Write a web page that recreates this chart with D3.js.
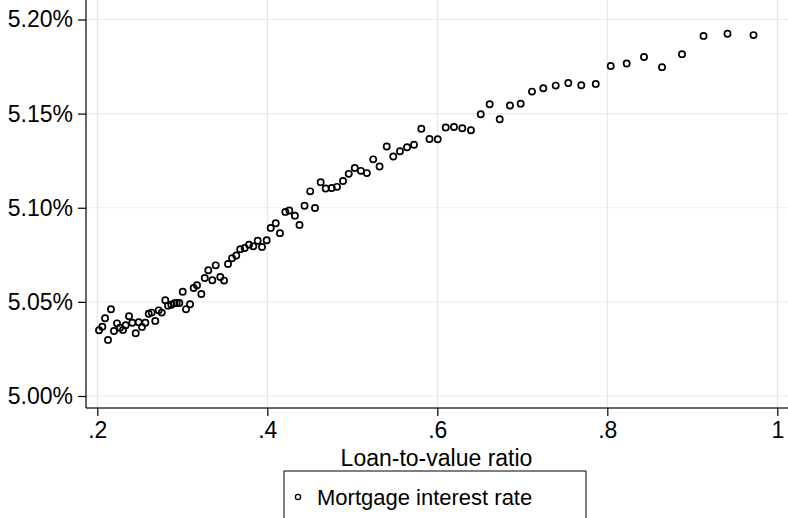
<!DOCTYPE html>
<html><head><meta charset="utf-8">
<script src="https://cdn.jsdelivr.net/npm/d3@7"></script>
<style>body{margin:0;background:#fff}svg{display:block;font-family:"Liberation Sans",Arial,Helvetica,sans-serif}</style>
</head><body><svg id="c" width="788" height="518"></svg>
<script>
const ltv = [0.2020,0.2059,0.2091,0.2126,0.2161,0.2196,0.2232,0.2267,0.2302,0.2334,0.2373,0.2412,0.2452,0.2487,0.2526,0.2565,0.2605,0.2640,0.2682,0.2722,0.2758,0.2800,0.2832,0.2871,0.2906,0.2934,0.2965,0.3005,0.3044,0.3091,0.3134,0.3173,0.3224,0.3264,0.3306,0.3353,0.3393,0.3447,0.3491,0.3538,0.3585,0.3635,0.3682,0.3734,0.3785,0.3835,0.3887,0.3938,0.3993,0.4040,0.4099,0.4149,0.4212,0.4259,0.4325,0.4379,0.4438,0.4505,0.4561,0.4628,0.4687,0.4758,0.4820,0.4891,0.4958,0.5029,0.5101,0.5171,0.5246,0.5321,0.5405,0.5482,0.5561,0.5644,0.5726,0.5812,0.5908,0.6005,0.6099,0.6196,0.6294,0.6396,0.6511,0.6616,0.6734,0.6855,0.6981,0.7114,0.7247,0.7393,0.7541,0.7694,0.7864,0.8040,0.8228,0.8432,0.8644,0.8879,0.9132,0.9414,0.9720];
const rate = [5.0349,5.0368,5.0413,5.0298,5.0461,5.0345,5.0386,5.0363,5.0351,5.0376,5.0424,5.0389,5.0333,5.0392,5.0367,5.0389,5.0437,5.0443,5.0399,5.0455,5.0443,5.0509,5.0480,5.0485,5.0493,5.0494,5.0494,5.0554,5.0461,5.0487,5.0574,5.0588,5.0542,5.0627,5.0668,5.0615,5.0694,5.0632,5.0613,5.0701,5.0732,5.0746,5.0780,5.0786,5.0804,5.0795,5.0825,5.0792,5.0827,5.0893,5.0918,5.0865,5.0978,5.0985,5.0958,5.0909,5.1011,5.1087,5.0999,5.1136,5.1102,5.1105,5.1111,5.1142,5.1180,5.1211,5.1196,5.1184,5.1257,5.1219,5.1325,5.1272,5.1300,5.1321,5.1335,5.1420,5.1365,5.1364,5.1426,5.1429,5.1422,5.1412,5.1497,5.1550,5.1470,5.1543,5.1553,5.1617,5.1635,5.1649,5.1663,5.1651,5.1658,5.1753,5.1766,5.1801,5.1747,5.1816,5.1913,5.1924,5.1917];
const xTicks = [0.2,0.4,0.6,0.8,1];
const xTickLabels = [".2",".4",".6",".8","1"];
const yTicks = [5.00,5.05,5.10,5.15,5.20];
const yTickLabels = ["5.00%","5.05%","5.10%","5.15%","5.20%"];
const xTitle = "Loan-to-value ratio";
const legendLabel = "Mortgage interest rate";

(function(){
const svg = d3.select("#c");
const x = d3.scaleLinear().domain([0.2,1]).range([97.3,777.3]);
const y = d3.scaleLinear().domain([5.00,5.20]).range([396,19.5]);
const pL = 86, pB = 408, pR = 788, pT = 0;
const ff = "Liberation Sans, Arial, sans-serif";

svg.append("g").selectAll("line").data(yTicks).join("line")
  .attr("x1",pL).attr("x2",pR).attr("y1",d=>y(d)).attr("y2",d=>y(d))
  .attr("stroke","#e6edf0").attr("stroke-width",1.2);
svg.append("g").selectAll("line").data(xTicks).join("line")
  .attr("x1",d=>x(d)).attr("x2",d=>x(d)).attr("y1",pT).attr("y2",pB)
  .attr("stroke","#e6e6e6").attr("stroke-width",1.2);

const xAxis = d3.axisBottom(x).tickValues(xTicks).tickFormat((d,i)=>xTickLabels[i]).tickSize(8).tickPadding(6);
const gx = svg.append("g").attr("transform",`translate(0,${pB})`).call(xAxis);
gx.select(".domain").attr("d",`M${pL},0H${pR}`).attr("stroke","#666").attr("stroke-width",2);
gx.selectAll(".tick line").attr("stroke","#000").attr("stroke-width",1.2);
gx.selectAll(".tick text").attr("font-size",23).attr("fill","#000").attr("font-family",ff);

const yAxis = d3.axisLeft(y).tickValues(yTicks).tickFormat((d,i)=>yTickLabels[i]).tickSize(8).tickPadding(5);
const gy = svg.append("g").attr("transform",`translate(${pL},0)`).call(yAxis);
gy.select(".domain").attr("d",`M0,${pT}V${pB}`).attr("stroke","#000").attr("stroke-width",1.2);
gy.selectAll(".tick line").attr("stroke","#000").attr("stroke-width",1.2);
gy.selectAll(".tick text").attr("font-size",23).attr("fill","#000").attr("font-family",ff);

svg.append("g").selectAll("circle").data(ltv.map((v,i)=>[v,rate[i]])).join("circle")
  .attr("cx",d=>x(d[0])).attr("cy",d=>y(d[1])).attr("r",3.1)
  .attr("fill","none").attr("stroke","#000").attr("stroke-width",1.7);

svg.append("text").attr("x",(pL+pR)/2-0.5).attr("y",466).attr("text-anchor","middle")
  .attr("font-size",23).text(xTitle);

svg.append("rect").attr("x",284).attr("y",471).attr("width",302).attr("height",60)
  .attr("fill","#fff").attr("stroke","#000").attr("stroke-width",1);
svg.append("circle").attr("cx",298).attr("cy",497).attr("r",2.6).attr("fill","none").attr("stroke","#000").attr("stroke-width",1.3);
svg.append("text").attr("x",317).attr("y",505).attr("font-size",22).text(legendLabel);
})();
</script></body></html>
